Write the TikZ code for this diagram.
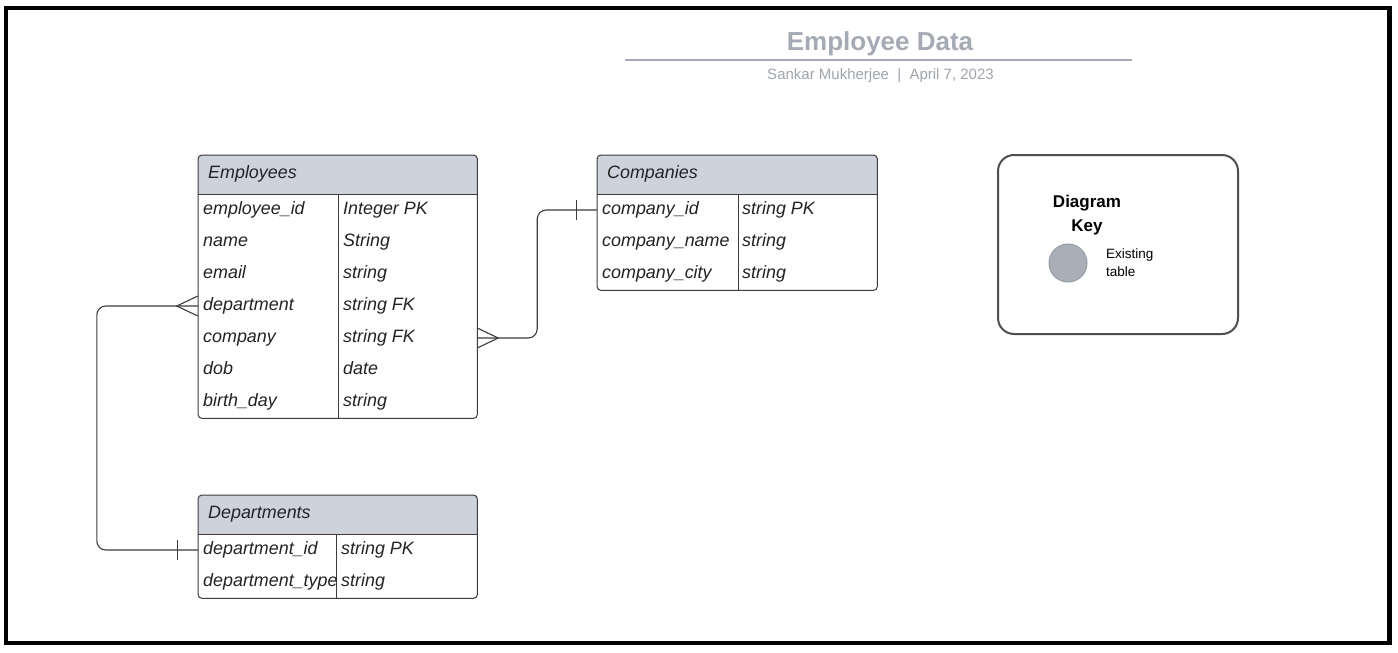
\documentclass[tikz,border=0pt]{standalone}
\usepackage{fontspec}
\setmainfont{Liberation Sans}
\usetikzlibrary{calc}
\definecolor{hdrfill}{RGB}{206,211,219}
\definecolor{bordercol}{RGB}{60,60,64}
\definecolor{txtcol}{RGB}{35,35,38}
\definecolor{titlegray}{RGB}{166,170,180}
\definecolor{subgray}{RGB}{160,164,174}
\definecolor{keyfill}{RGB}{170,174,182}
\definecolor{keydraw}{RGB}{150,154,162}
\definecolor{keyborder}{RGB}{78,78,84}
\tikzset{
  tbl/.style={rectangle, inner sep=0, anchor=north west},
  tblborder/.style={draw=bordercol, line width=1pt, rounded corners=4},
  tblline/.style={draw=bordercol, line width=1pt},
  cell/.style={anchor=base west, inner sep=0, text=txtcol, font=\fontsize{17.9}{21}\selectfont\itshape},
  rowbox/.style={rectangle, inner sep=0, minimum height=32},
  conn/.style={draw=bordercol, line width=1.1pt},
  keytxt/.style={anchor=base, inner sep=0, font=\fontsize{17}{20}\selectfont\bfseries, text=black},
  smalltxt/.style={anchor=base west, inner sep=0, font=\fontsize{13.5}{16}\selectfont, text=black}
}
\begin{document}
\begin{tikzpicture}[x=1pt,y=-1pt]
\useasboundingbox (0,0) rectangle (1398,653);
\fill[white] (0,0) rectangle (1398,653);
\draw[black, line width=4.5pt] (6,8) rectangle (1389.5,643);

% title
\node[anchor=base, inner sep=0, text=titlegray, font=\fontsize{26}{30}\selectfont\bfseries] (title) at (880,50.5) {Employee Data};
\coordinate (tl1) at (625,60);
\coordinate (tl2) at (1132,60);
\draw[titlegray, line width=2pt] (tl1) -- (tl2);
\node[anchor=base, inner sep=0, text=subgray, font=\fontsize{15}{18}\selectfont] (sub) at (880.5,79.5) {Sankar Mukherjee\ \ |\ \ April 7, 2023};

% ---------- Employees ----------
\node[tbl, minimum width=279, minimum height=263] (emp) at (198,155) {};
\begin{scope}
  \clip[rounded corners=4] (emp.north west) rectangle (emp.south east);
  \fill[hdrfill] (198,155) rectangle (477,194);
\end{scope}
\draw[tblborder] (emp.north west) rectangle (emp.south east);
\draw[tblline] (198,194) -- (477,194);
\draw[tblline] (338,194) -- (338,418);
\node[cell] (emph) at (208,178.5) {Employees};
\node[cell] at (203,214) {employee\_id};  \node[cell] at (343,214) {Integer PK};
\node[cell] at (203,246) {name};         \node[cell] at (343,246) {String};
\node[cell] at (203,278) {email};        \node[cell] at (343,278) {string};
\node[cell] at (203,310) {department};   \node[cell] at (343,310) {string FK};
\node[cell] at (203,342) {company};      \node[cell] at (343,342) {string FK};
\node[cell] at (203,374) {dob};          \node[cell] at (343,374) {date};
\node[cell] at (203,406) {birth\_day};   \node[cell] at (343,406) {string};
\node[rowbox, minimum width=279] (edept) at (337.5,306) {};
\node[rowbox, minimum width=279] (ecomp) at (337.5,338) {};

% ---------- Companies ----------
\node[tbl, minimum width=280, minimum height=135] (comp) at (597,155) {};
\begin{scope}
  \clip[rounded corners=4] (comp.north west) rectangle (comp.south east);
  \fill[hdrfill] (597,155) rectangle (877,194);
\end{scope}
\draw[tblborder] (comp.north west) rectangle (comp.south east);
\draw[tblline] (597,194) -- (877,194);
\draw[tblline] (738,194) -- (738,290);
\node[cell] (comph) at (607,178.5) {Companies};
\node[cell] at (602,214) {company\_id};   \node[cell] at (742,214) {string PK};
\node[cell] at (602,246) {company\_name}; \node[cell] at (742,246) {string};
\node[cell] at (602,278) {company\_city}; \node[cell] at (742,278) {string};
\node[rowbox, minimum width=280] (cid) at (737,210) {};

% ---------- Departments ----------
\node[tbl, minimum width=279, minimum height=103] (dept) at (198,495) {};
\begin{scope}
  \clip[rounded corners=4] (dept.north west) rectangle (dept.south east);
  \fill[hdrfill] (198,495) rectangle (477,534);
\end{scope}
\draw[tblborder] (dept.north west) rectangle (dept.south east);
\draw[tblline] (198,534) -- (477,534);
\draw[tblline] (336,534) -- (336,598);
\node[cell] (depth) at (208,518.5) {Departments};
\node[cell] at (203,554) {department\_id};   \node[cell] at (341,554) {string PK};
\node[cell] at (203,586) {department\_type}; \node[cell] at (341,586) {string};
\node[rowbox, minimum width=279] (did) at (337.5,550) {};

% ---------- connectors ----------
\draw[conn, rounded corners=9] (edept.west) -- ++(-101,0) |- (did.west);
\draw[conn] ($(edept.west)+(0,-10)$) -- ($(edept.west)+(-21,0)$) -- ($(edept.west)+(0,10)$);
\draw[conn] ($(did.west)+(-20,-10)$) -- ($(did.west)+(-20,10)$);

\draw[conn, rounded corners=9] (ecomp.east) -- ++(60,0) |- (cid.west);
\draw[conn] ($(ecomp.east)+(0,-10)$) -- ($(ecomp.east)+(21,0)$) -- ($(ecomp.east)+(0,10)$);
\draw[conn] ($(cid.west)+(-20,-10)$) -- ($(cid.west)+(-20,10)$);

% ---------- key ----------
\node[rectangle, draw=keyborder, line width=2pt, rounded corners=16, minimum width=240, minimum height=179, anchor=north west] (key) at (997,154) {};
\node[keytxt] (key1) at (1087,207) {Diagram};
\node[keytxt] (key2) at (1087,231) {Key};
\node[circle, fill=keyfill, draw=keydraw, line width=1pt, minimum size=38, inner sep=0] (kc) at (1068,263) {};
\node[smalltxt] (kt1) at (1106,258) {Existing};
\node[smalltxt] (kt2) at (1106,276) {table};
\end{tikzpicture}
\end{document}
